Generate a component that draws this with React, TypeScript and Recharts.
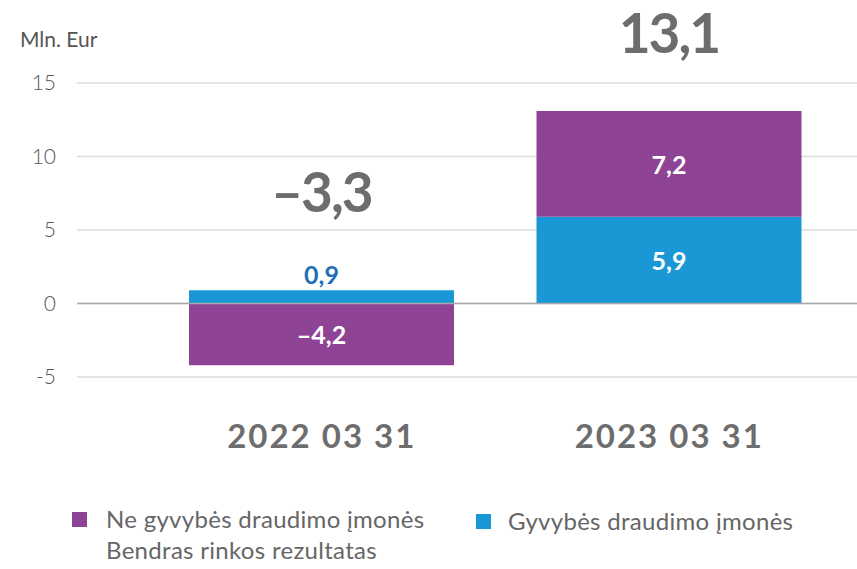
import { BarChart, Bar, XAxis, YAxis, CartesianGrid, ReferenceLine, LabelList } from "recharts";

const dates = ["2022 03 31", "2023 03 31"];
const lifeInsurers = [0.9, 5.9];
const nonLifeInsurers = [-4.2, 7.2];
const marketTotal = [-3.3, 13.1];
const yTicks = [-5, 0, 5, 10, 15];

const NAME_NON_LIFE = "Ne gyvybės draudimo įmonės";
const NAME_LIFE = "Gyvybės draudimo įmonės";
const NAME_TOTAL = "Bendras rinkos rezultatas";

const PURPLE = "#8e4394";
const BLUE = "#1a98d6";
const DARK_BLUE = "#1f6fb6";
const GREY = "#6d6d6d";
const FONT = "Lato, 'Open Sans', sans-serif";

const data = dates.map((d, i) => ({
	date: d,
	life: lifeInsurers[i],
	nonLife: nonLifeInsurers[i],
	total: marketTotal[i],
}));

const fmt = (v: number) => (v < 0 ? "\u2013" : "") + Math.abs(v).toFixed(1).replace(".", ",");

// value inside the segment, or above it when the segment is too thin
const segmentLabel = (smallColor: string) => (props: any) => {
	const { x, y, width, height, value } = props;
	const top = Math.min(y, y + height);
	const h = Math.abs(height);
	const cx = x + width / 2;
	if (h < 30) {
		return (
			<text x={cx} y={top - 6} textAnchor="middle" fill={smallColor} fontSize={25} fontWeight={700} fontFamily={FONT}>
				{fmt(value)}
			</text>
		);
	}
	return (
		<text x={cx} y={top + h / 2 + 10} textAnchor="middle" fill="#fff" fontSize={25} fontWeight={700} fontFamily={FONT}>
			{fmt(value)}
		</text>
	);
};

// big total above the top of the positive stack, kept inside the chart top
const totalLabel = (props: any) => {
	const { x, y, width, height, value, index } = props;
	const top = Math.min(y, y + height);
	const h = Math.abs(height);
	const zeroY = top + h;
	const k = h / lifeInsurers[index];
	const posTop = lifeInsurers[index] + Math.max(nonLifeInsurers[index], 0);
	const topY = zeroY - posTop * k;
	const centerY = Math.max(topY - 98, 33);
	return (
		<text
			x={x + width / 2}
			y={centerY + 20}
			textAnchor="middle"
			fill={GREY}
			fontSize={55}
			fontWeight={700}
			letterSpacing={-2}
			fontFamily={FONT}
		>
			{fmt(value)}
		</text>
	);
};

const DateTick = (props: any) => {
	const { x, y, payload } = props;
	return (
		<text x={x} y={y} dy={63} textAnchor="middle" fill={GREY} fontSize={33} fontWeight={700} letterSpacing={2} fontFamily={FONT}>
			{payload.value}
		</text>
	);
};

const Square = ({ color }: { color: string }) => (
	<span style={{ display: "inline-block", width: 15, height: 15, background: color }} />
);

export default function App() {
	const legendText = {
		fontSize: 24,
		letterSpacing: 0.3,
		lineHeight: "28px",
		color: "#666",
		fontFamily: FONT,
		whiteSpace: "nowrap" as const,
	};
	return (
		<div style={{ position: "absolute", left: 0, top: 0, width: 857, height: 569, background: "#fff" }}>
			<div style={{ position: "absolute", left: 20, top: 27, fontSize: 21, lineHeight: "24px", color: "#555", fontFamily: FONT }}>
				Mln. Eur
			</div>
			<BarChart
				width={857}
				height={569}
				data={data}
				stackOffset="sign"
				margin={{ top: 83, right: 0, bottom: 162, left: 0 }}
			>
				<CartesianGrid vertical={false} stroke="#dcdcdc" strokeWidth={1.5} />
				<ReferenceLine y={0} stroke="#a8a8a8" strokeWidth={1.5} />
				<YAxis
					width={77}
					domain={[-5, 15]}
					ticks={yTicks}
					axisLine={false}
					tickLine={false}
					tickMargin={15}
					tick={{ fill: "#555", fontSize: 21, fontWeight: 300, fontFamily: FONT }}
				/>
				<XAxis
					dataKey="date"
					height={30}
					axisLine={false}
					tickLine={false}
					padding={{ left: 71, right: 14 }}
					tick={<DateTick />}
				/>
				<Bar dataKey="life" name={NAME_LIFE} stackId="a" fill={BLUE} barSize={265} isAnimationActive={false}>
					<LabelList dataKey="life" content={segmentLabel(DARK_BLUE)} />
					<LabelList dataKey="total" content={totalLabel} />
				</Bar>
				<Bar dataKey="nonLife" name={NAME_NON_LIFE} stackId="a" fill={PURPLE} barSize={265} isAnimationActive={false}>
					<LabelList dataKey="nonLife" content={segmentLabel(PURPLE)} />
				</Bar>
			</BarChart>
			<div style={{ position: "absolute", left: 72, top: 505, display: "flex", alignItems: "center", ...legendText }}>
				<Square color={PURPLE} />
				<span style={{ marginLeft: 19 }}>{NAME_NON_LIFE}</span>
			</div>
			<div style={{ position: "absolute", left: 476, top: 507, display: "flex", alignItems: "center", ...legendText }}>
				<Square color={BLUE} />
				<span style={{ marginLeft: 17 }}>{NAME_LIFE}</span>
			</div>
			<div style={{ position: "absolute", left: 106, top: 536, ...legendText }}>{NAME_TOTAL}</div>
		</div>
	);
}
